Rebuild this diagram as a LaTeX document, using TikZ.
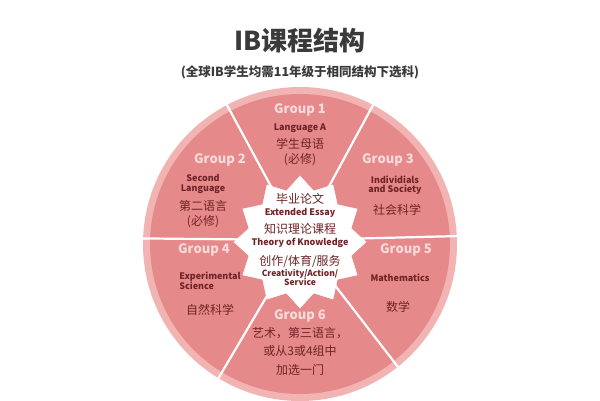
\documentclass[tikz,border=0pt]{standalone}
\usepackage{fontspec}
\setmainfont{Noto Sans CJK SC}
\usepackage{tikz}
\usetikzlibrary{shapes.geometric, positioning, calc}
\definecolor{sector}{HTML}{E6898A}
\definecolor{rim}{HTML}{F2B3B3}
\definecolor{ink}{HTML}{6E2426}
\definecolor{grp}{HTML}{FADADA}
\definecolor{titlegray}{HTML}{3A3A3A}
\tikzset{
  grouplabel/.style={text=grp, font=\fontsize{13}{13}\selectfont\bfseries},
  entext/.style={text=ink, font=\fontsize{9}{9.5}\selectfont\bfseries, align=center},
  zhtext/.style={text=ink, font=\fontsize{12}{15}\selectfont, align=center},
  divider/.style={white, line width=2.2pt}
}
\begin{document}
\begin{tikzpicture}[x=1pt, y=-1pt]
\useasboundingbox (0,0) rectangle (600,400);

% wheel
\coordinate (c) at (300,244);
\coordinate (hub) at (300,240);
\fill[rim] (c) circle (157);
\fill[sector] (c) circle (150);
\begin{scope}
  \clip (c) circle (157);
  \foreach \px/\py in {208/70, 392/70, 100/238, 500/235, 176/450, 452/437}
    \draw[divider] (hub) -- (\px,\py);
\end{scope}
\node (star) at (300,242) [star, star points=12, star point ratio=1.25,
  minimum size=132pt, fill=white, draw=white, inner sep=0pt] {};
\fill[white] (300,242) circle (51);

% title
\node (title) at (300,41) [text=titlegray, font=\fontsize{26}{28}\selectfont\bfseries] {IB课程结构};
\node (sub) at (300,72) [text=titlegray, font=\fontsize{12.5}{14}\selectfont\bfseries] {(全球IB学生均需11年级于相同结构下选科)};

% groups
\node (g1) at (300,110) [grouplabel] {Group 1};
\node (g1en) at (300,128) [entext] {Language A};
\node (g1zh) at (300,152) [zhtext] {学生母语\\(必修)};
\node (g2) at (220,160) [grouplabel] {Group 2};
\node (g2en) at (203,184) [entext] {Second\\Language};
\node (g2zh) at (203,214) [zhtext] {第二语言\\(必修)};
\node (g3) at (388,160) [grouplabel] {Group 3};
\node (g3en) at (395,185) [entext] {Individials\\and Society};
\node (g3zh) at (397,210) [zhtext] {社会科学};
\node (g4) at (204,250) [grouplabel] {Group 4};
\node (g4en) at (210,281) [entext, align=left] {Experimental\\Science};
\node (g4zh) at (210,310) [zhtext] {自然科学};
\node (g5) at (406,250) [grouplabel] {Group 5};
\node (g5en) at (400,278) [entext] {Mathematics};
\node (g5zh) at (398,307) [zhtext] {数学};
\node (g6) at (300,316) [grouplabel] {Group 6};
\node (g6zh) at (300,351) [zhtext, font=\fontsize{12}{18.5}\selectfont] {艺术，第三语言，\\或从3或4组中\\加选一门};

% core
\node (ee) at (300,205) [zhtext, font=\fontsize{12}{14}\selectfont] {毕业论文\\[-2pt]{\bfseries\fontsize{9}{9}\selectfont Extended Essay}};
\node (tok) at (300,236) [zhtext, font=\fontsize{12}{14}\selectfont] {知识理论课程\\[-2pt]{\bfseries\fontsize{9}{9}\selectfont Theory of Knowledge}};
\node (cas) at (300,270) [zhtext, font=\fontsize{12}{14}\selectfont] {创作/体育/服务\\[-3pt]{\bfseries\fontsize{8.5}{9}\selectfont Creativity/Action/}\\[-5pt]{\bfseries\fontsize{8.5}{9}\selectfont Service}};
\end{tikzpicture}
\end{document}
